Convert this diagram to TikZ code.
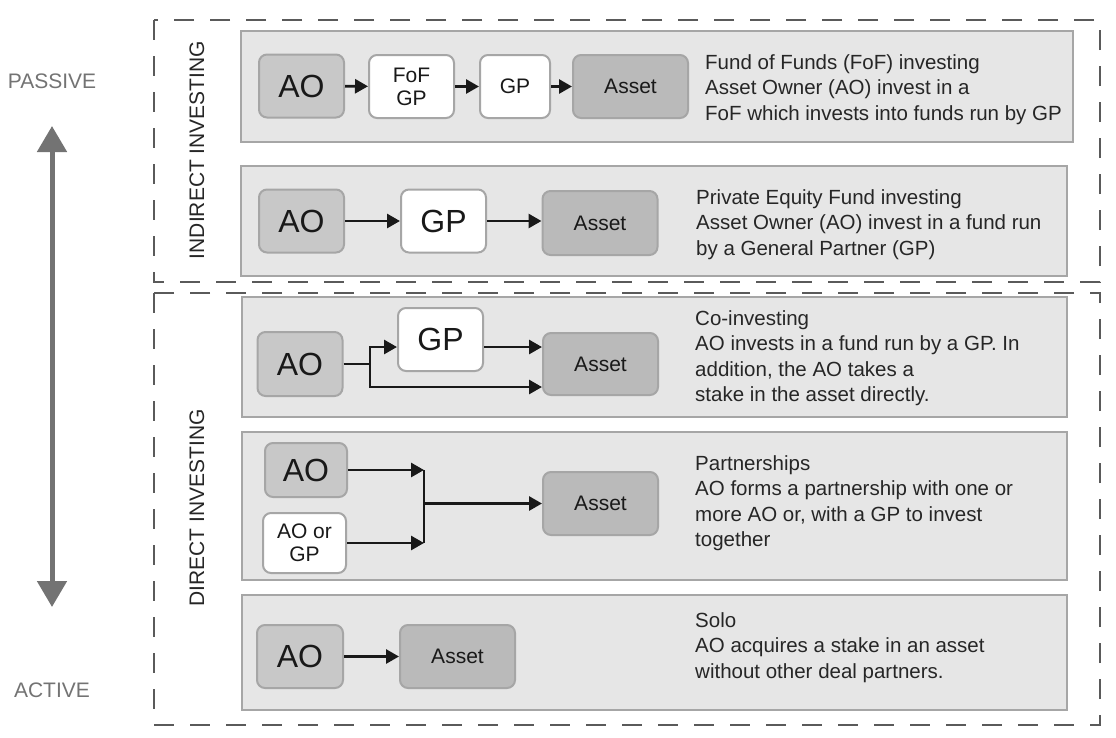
\documentclass[tikz,border=0pt]{standalone}
\usepackage{fontspec}
\setmainfont{Liberation Sans}
\usetikzlibrary{arrows.meta}

\definecolor{panelgray}{HTML}{E6E6E6}
\definecolor{edgegray}{HTML}{A6A6A6}
\definecolor{aogray}{HTML}{C8C8C8}
\definecolor{assetgray}{HTML}{BABABA}
\definecolor{labelgray}{HTML}{737373}
\definecolor{dashgray}{HTML}{5A5A5A}

\newcommand{\boxfont}{\fontsize{21}{23}\selectfont}
\newcommand{\bigboxfont}{\fontsize{32}{34}\selectfont}
\newcommand{\descfont}{\fontsize{20.5}{25.5}\selectfont}

\tikzset{
  panel/.style={draw=edgegray, fill=panelgray, line width=2pt},
  dashbox/.style={draw=dashgray, line width=2.2pt, dash pattern=on 20pt off 16pt},
  unit/.style={draw=edgegray, line width=2pt, rounded corners=8pt, inner sep=0pt,
    align=center, text=black!90, font=\boxfont},
  aobox/.style={unit, fill=aogray, font=\bigboxfont, minimum width=85pt, minimum height=63pt},
  gpbox/.style={unit, fill=white, minimum width=85pt, minimum height=63pt},
  assetbox/.style={unit, fill=assetgray, minimum width=115pt, minimum height=63pt},
  desc/.style={anchor=north west, align=left, inner sep=0pt, text=black!85, font=\descfont},
  side/.style={text=labelgray, font=\boxfont, inner sep=0pt},
  arr/.style={-{Triangle[length=13pt,width=14pt]}, line width=2.8pt, black!90},
  bigarr/.style={{Triangle[length=26pt,width=29pt]}-{Triangle[length=26pt,width=29pt]},
    line width=5pt, labelgray}
}

\begin{document}
\begin{tikzpicture}[x=1pt, y=-1pt]
  \useasboundingbox (0,0) rectangle (1116,737);

  % dashed groups
  \draw[dashbox] (154,20) rectangle (1100,282);
  \draw[dashbox] (154,293) rectangle (1100,725);

  % panels
  \draw[panel] (241,31) rectangle (1073,142);
  \draw[panel] (241,166) rectangle (1067,276);
  \draw[panel] (242,297) rectangle (1067,417);
  \draw[panel] (242,432) rectangle (1067,580);
  \draw[panel] (242,595) rectangle (1067,710);

  % passive / active scale
  \node[side] (passive) at (52,81) {PASSIVE};
  \node[side] (active) at (52,690) {ACTIVE};
  \coordinate (passtip) at (52,126);
  \coordinate (acttip) at (52,607);
  \draw[bigarr] (passtip) -- (acttip);

  \node[side, text=black!85, rotate=90] (indirect) at (197,150) {INDIRECT INVESTING};
  \node[side, text=black!85, rotate=90] (direct) at (197,508) {DIRECT INVESTING};

  % fund of funds
  \node[aobox] (ao1) at (301.5,86) {AO};
  \node[gpbox] (fof1) at (411.5,86.5) {FoF\\GP};
  \node[gpbox, minimum width=70pt] (gp1) at (515,86.5) {GP};
  \node[assetbox] (as1) at (630.5,86.5) {Asset};
  \draw[arr] (ao1) -- (fof1);
  \draw[arr] (fof1) -- (gp1);
  \draw[arr] (gp1) -- (as1);
  \node[desc] (d1) at (705,54) {Fund of Funds (FoF) investing\\Asset Owner (AO) invest in a\\FoF which invests into funds run by GP};

  % private equity fund
  \node[aobox] (ao2) at (301.5,221) {AO};
  \node[gpbox, font=\bigboxfont] (gp2) at (443.5,221) {GP};
  \node[assetbox, minimum height=64pt] (as2) at (600,223) {Asset};
  \draw[arr] (ao2) -- (gp2);
  \draw[arr] (gp2.east) -- (gp2.east -| as2.west);
  \node[desc] (d2) at (696,189) {Private Equity Fund investing\\Asset Owner (AO) invest in a fund run\\by a General Partner (GP)};

  % co-investing
  \node[aobox, minimum height=64pt] (ao3) at (300,364) {AO};
  \node[gpbox, font=\bigboxfont] (gp3) at (440.5,339.5) {GP};
  \node[assetbox, minimum height=62pt] (as3) at (600.5,364) {Asset};
  \coordinate (split3) at (370,364);
  \draw[line width=2.8pt, black!90] (ao3.east) -- (split3);
  \draw[arr] (split3) |- ([yshift=-7.5pt]gp3.west);
  \draw[arr] ([yshift=-7.5pt]gp3.east) -- ([yshift=-7.5pt]gp3.east -| as3.west);
  \draw[arr] (split3) |- ([yshift=-23pt]as3.west);
  \node[desc] (d3) at (695,310) {Co-investing\\AO invests in a fund run by a GP. In\\addition, the AO takes a\\stake in the asset directly.};

  % partnerships
  \node[aobox, minimum width=82pt, minimum height=54pt] (ao4) at (306,470) {AO};
  \node[gpbox, minimum width=83pt, minimum height=60pt] (aogp4) at (304.5,543) {AO or\\GP};
  \node[assetbox] (as4) at (600.5,503.5) {Asset};
  \coordinate (join4) at (424,503.5);
  \draw[arr] (ao4.east) -- (ao4.east -| join4);
  \draw[arr] (aogp4.east) -- (aogp4.east -| join4);
  \draw[line width=2.8pt, black!90] (ao4.east -| join4) -- (aogp4.east -| join4);
  \draw[arr] (join4) -- (as4.west);
  \node[desc] (d4) at (695,455) {Partnerships\\AO forms a partnership with one or\\more AO or, with a GP to invest\\together};

  % solo
  \node[aobox, minimum width=86pt] (ao5) at (300,656.5) {AO};
  \node[assetbox] (as5) at (457.5,656.5) {Asset};
  \draw[arr] (ao5) -- (as5);
  \node[desc] (d5) at (695,612) {Solo\\AO acquires a stake in an asset\\without other deal partners.};
\end{tikzpicture}
\end{document}
